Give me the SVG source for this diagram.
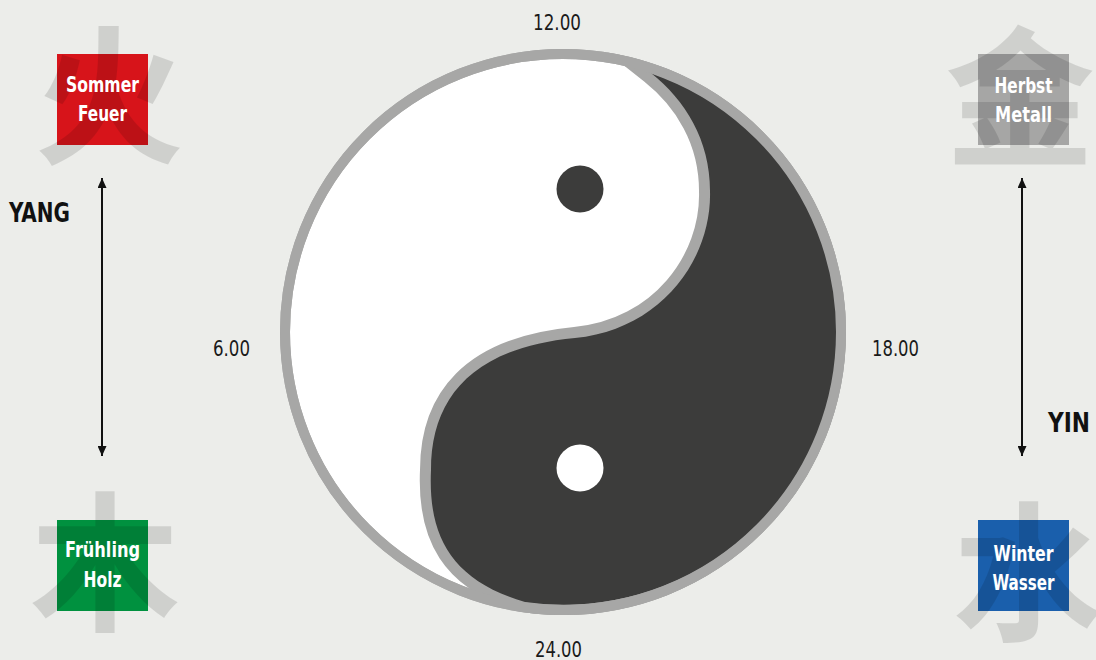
<svg xmlns="http://www.w3.org/2000/svg" width="1096" height="660" viewBox="0 0 1096 660">
  <defs>
    <style>
      .lbl { font-family: "Liberation Sans Narrow", "DejaVu Sans Condensed", "Liberation Sans", sans-serif; font-weight: bold; font-size: 21px; fill: #ffffff; text-anchor: middle; }
      .time { font-family: "Liberation Sans Narrow", "DejaVu Sans Condensed", "Liberation Sans", sans-serif; font-size: 21px; fill: #1a1a1a; text-anchor: middle; }
      .pole { font-family: "Liberation Sans Narrow", "DejaVu Sans Condensed", "Liberation Sans", sans-serif; font-weight: bold; font-size: 27px; fill: #111111; }
      .zi { font-family: "Noto Sans CJK SC", "Noto Sans CJK JP", sans-serif; font-weight: bold; font-size: 150px; fill: #000000; fill-opacity: 0.12; text-anchor: middle; dominant-baseline: central; }
      .arrow { stroke: #111111; stroke-width: 2; fill: none; marker-start: url(#ah); marker-end: url(#ah); }
    </style>
    <marker id="ah" viewBox="0 0 10 9" refX="10" refY="4.5" markerWidth="10" markerHeight="9" markerUnits="userSpaceOnUse" orient="auto-start-reverse">
      <path d="M0,0 L10,4.5 L0,9 Z" fill="#111111"/>
    </marker>
    <clipPath id="disc">
      <circle cx="563" cy="332" r="283"/>
    </clipPath>
  </defs>

  <rect x="0" y="0" width="1096" height="660" fill="#ecedea"/>

  <g id="yinyang">
    <circle cx="563" cy="332" r="278" fill="#ffffff" stroke="#a7a7a6" stroke-width="10"/>
    <path clip-path="url(#disc)" d="M651,73 A273,273 0 0 1 525,602 C450,580 428,535 431,470 C431,400 470,348 575,338 C660,330 712,260 710,191 C710,140 685,100 651,73 Z" fill="#3c3c3b" stroke="#a7a7a6" stroke-width="22" stroke-linejoin="miter" stroke-miterlimit="20" paint-order="stroke"/>
    <circle cx="563" cy="332" r="278" fill="none" stroke="#a7a7a6" stroke-width="10"/>
    <circle cx="580" cy="189" r="23.5" fill="#3c3c3b"/>
    <circle cx="580" cy="468" r="23.5" fill="#ffffff"/>
  </g>

  <g id="times">
    <text class="time" x="557" y="30" textLength="48" lengthAdjust="spacingAndGlyphs">12.00</text>
    <text class="time" x="558.5" y="657" textLength="47" lengthAdjust="spacingAndGlyphs">24.00</text>
    <text class="time" x="231.5" y="356" textLength="37" lengthAdjust="spacingAndGlyphs">6.00</text>
    <text class="time" x="895.5" y="356" textLength="47" lengthAdjust="spacingAndGlyphs">18.00</text>
  </g>

  <g id="node-sommer">
    <rect x="57" y="54" width="91" height="91" fill="#d7141a"/>
    <text class="zi" x="109" y="86">火</text>
    <text class="lbl" x="102.5" y="92" textLength="73" lengthAdjust="spacingAndGlyphs">Sommer</text>
    <text class="lbl" x="102.5" y="121" textLength="49" lengthAdjust="spacingAndGlyphs">Feuer</text>
  </g>

  <g id="node-herbst">
    <rect x="978" y="54" width="91" height="91" fill="#a6a6a5"/>
    <text class="zi" x="1020" y="88">金</text>
    <text class="lbl" x="1023.5" y="93" textLength="58" lengthAdjust="spacingAndGlyphs">Herbst</text>
    <text class="lbl" x="1023.5" y="122" textLength="57" lengthAdjust="spacingAndGlyphs">Metall</text>
  </g>

  <g id="node-fruehling">
    <rect x="57" y="520" width="91" height="91" fill="#00913f"/>
    <text class="zi" x="105" y="553">木</text>
    <text class="lbl" x="102.5" y="557" textLength="75" lengthAdjust="spacingAndGlyphs">Frühling</text>
    <text class="lbl" x="102.5" y="587" textLength="38" lengthAdjust="spacingAndGlyphs">Holz</text>
  </g>

  <g id="node-winter">
    <rect x="978" y="520" width="91" height="91" fill="#1a5fac"/>
    <text class="zi" x="1028" y="563">水</text>
    <text class="lbl" x="1023.5" y="561" textLength="60" lengthAdjust="spacingAndGlyphs">Winter</text>
    <text class="lbl" x="1023.5" y="590" textLength="62" lengthAdjust="spacingAndGlyphs">Wasser</text>
  </g>

  <g id="poles">
    <text class="pole" x="9" y="222" textLength="61" lengthAdjust="spacingAndGlyphs">YANG</text>
    <text class="pole" x="1048" y="432" textLength="42" lengthAdjust="spacingAndGlyphs">YIN</text>
  </g>

  <g id="connectors">
    <line class="arrow" x1="102" y1="178" x2="102" y2="456"/>
    <line class="arrow" x1="1022" y1="178" x2="1022" y2="456"/>
  </g>
</svg>
